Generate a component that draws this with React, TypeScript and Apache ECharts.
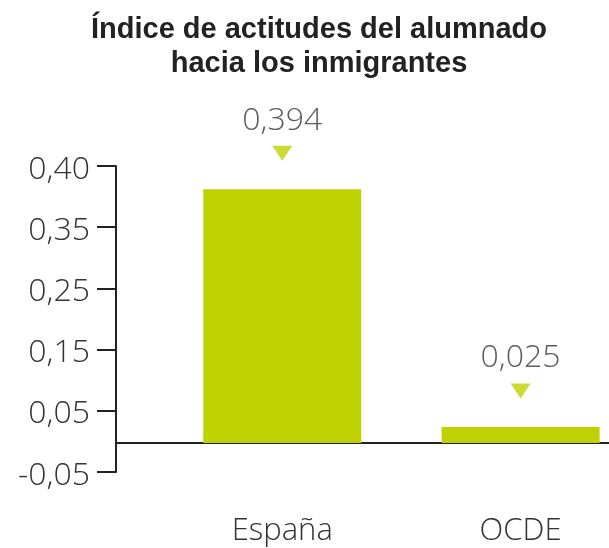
import React, { useEffect, useRef } from "react";
import * as echarts from "echarts";

const titleLines = ["Índice de actitudes del alumnado", "hacia los inmigrantes"];
const categories = ["España", "OCDE"];
const values = [0.394, 0.025];
const yTickLabels = ["-0,05", "0,05", "0,15", "0,25", "0,35", "0,40"];

const Y_MIN = -0.045;
const Y_MAX = 0.43;
const X_MIN = -0.6975;
const X_MAX = 1.371;
const GREEN = "#bfd100";
const TEXT = "#333333";
const AXIS = "#222222";
const FONT = "'Open Sans', 'Liberation Sans', sans-serif";
const TITLE_FONT = "'Liberation Sans', Arial, sans-serif";

export default function App() {
  const ref = useRef<HTMLDivElement>(null);
  useEffect(() => {
    const chart = echarts.init(ref.current!, null, { renderer: "svg" });
    const step = (Y_MAX - Y_MIN) / (yTickLabels.length - 1);
    const tickValues = yTickLabels.map((_, i) => Y_MIN + i * step);
    const points = values.map((v, i) => [i, v]);
    chart.setOption({
      animation: false,
      grid: { left: 116, right: 0, top: 166, bottom: 76, outerBoundsMode: "none" },
      graphic: titleLines.map((line, i) => ({
        type: "text",
        x: 319,
        y: 28 + i * 34,
        style: {
          text: line,
          fill: "#222222",
          fontSize: 29,
          fontWeight: 700,
          fontFamily: TITLE_FONT,
          align: "center",
          verticalAlign: "middle",
        },
      })),
      xAxis: {
        type: "value",
        min: X_MIN,
        max: X_MAX,
        splitLine: { show: false },
        axisTick: { show: false },
        axisLine: { show: true, onZero: true, lineStyle: { color: AXIS, width: 2 } },
        axisLabel: {
          customValues: [0, 1],
          formatter: (v: number) => categories[Math.round(v)] ?? "",
          margin: 40,
          fontSize: 31,
          fontWeight: 300,
          fontFamily: FONT,
          color: TEXT,
        },
      },
      yAxis: {
        type: "value",
        min: Y_MIN,
        max: Y_MAX,
        splitLine: { show: false },
        axisLine: { show: true, onZero: false, lineStyle: { color: AXIS, width: 2 } },
        axisTick: {
          show: true,
          customValues: tickValues,
          length: 19,
          lineStyle: { color: AXIS, width: 2 },
        },
        axisLabel: {
          customValues: tickValues,
          formatter: (v: number) => yTickLabels[Math.round((v - Y_MIN) / step)] ?? "",
          margin: 26,
          fontSize: 32,
          fontWeight: 300,
          fontFamily: FONT,
          color: TEXT,
        },
      },
      series: [
        {
          type: "bar",
          data: points,
          barWidth: 158,
          itemStyle: { color: GREEN },
        },
        {
          type: "scatter",
          data: points,
          symbol: "path://M0,0L20,0L10,15Z",
          symbolSize: [20, 15],
          symbolOffset: [0, -36],
          itemStyle: { color: GREEN },
          label: {
            show: true,
            position: "inside",
            offset: [0, -36],
            formatter: (p: any) => p.value[1].toFixed(3).replace(".", ","),
            fontSize: 32,
            fontWeight: 300,
            fontFamily: FONT,
            color: TEXT,
          },
        },
      ],
    });
    return () => chart.dispose();
  }, []);
  return (
    <div
      ref={ref}
      style={{ position: "fixed", left: 0, top: 0, width: 609, height: 548 }}
    />
  );
}
